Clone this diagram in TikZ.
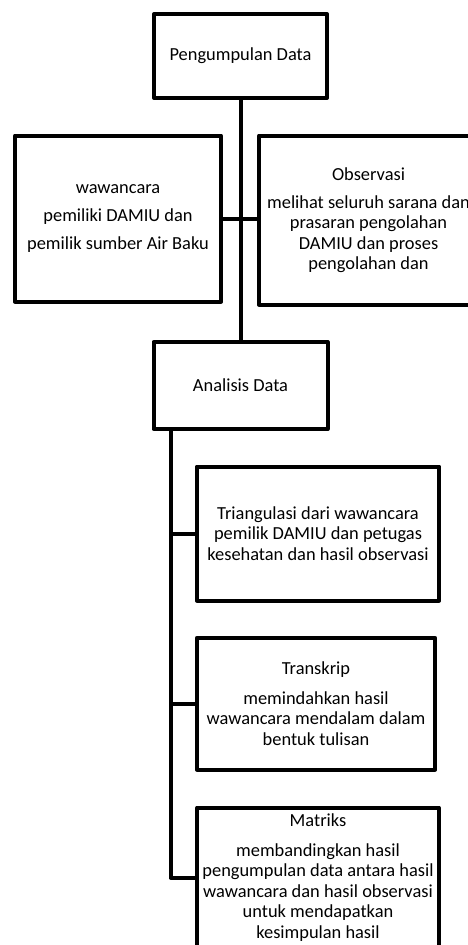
\documentclass[tikz,border=0pt]{standalone}
\usepackage{fontspec}
\setmainfont{Carlito}
\begin{document}
\begin{tikzpicture}[x=1pt,y=-1pt,
  box/.style={draw, line width=4pt, line join=round, inner sep=0pt, align=center,
    font=\fontsize{18.4}{20.5}\selectfont},
  link/.style={line width=4pt, line join=round}]
\useasboundingbox (0,0) rectangle (468,945);
\clip (0,0) rectangle (468,945);
\node[box, minimum width=173pt, minimum height=84pt] (top) at (240.5,56) {Pengumpulan Data};
\node[box, minimum width=206pt, minimum height=166pt] (left) at (118,218.5)
  {wawancara\\[7.5pt]pemiliki DAMIU dan\\[7.5pt]pemilik sumber Air Baku};
\node[box, minimum width=219pt, minimum height=169pt] (right) at (368.5,220)
  {Observasi\\[7.5pt]melihat seluruh sarana dan\\prasaran pengolahan\\DAMIU dan proses\\pengolahan dan};
\node[box, minimum width=174pt, minimum height=87pt] (ana) at (240.5,385.5) {Analisis Data};
\node[box, minimum width=242.5pt, minimum height=134pt] (tri) at (318,533.5)
  {Triangulasi dari wawancara\\pemilik DAMIU dan petugas\\kesehatan dan hasil observasi};
\node[box, minimum width=238.5pt, minimum height=131.5pt] (tra) at (316,703.75)
  {Transkrip\\[9pt]memindahkan hasil\\wawancara mendalam dalam\\bentuk tulisan};
\node[box, minimum width=241.5pt, minimum height=140.5pt] (mat) at (318,877.75)
  {Matriks\\[9pt]membandingkan hasil\\pengumpulan data antara hasil\\wawancara dan hasil observasi\\untuk mendapatkan\\kesimpulan hasil};
\draw[link] (top.south) -- (ana.north);
\draw[link] (left.east) -- (left.east -| right.west);
\coordinate (t2) at (170.5,0);
\draw[link] (ana.south -| t2) -- (t2 |- mat.west) -- (mat.west);
\draw[link] (t2 |- tri.west) -- (tri.west);
\draw[link] (t2 |- tra.west) -- (tra.west);
\end{tikzpicture}
\end{document}
